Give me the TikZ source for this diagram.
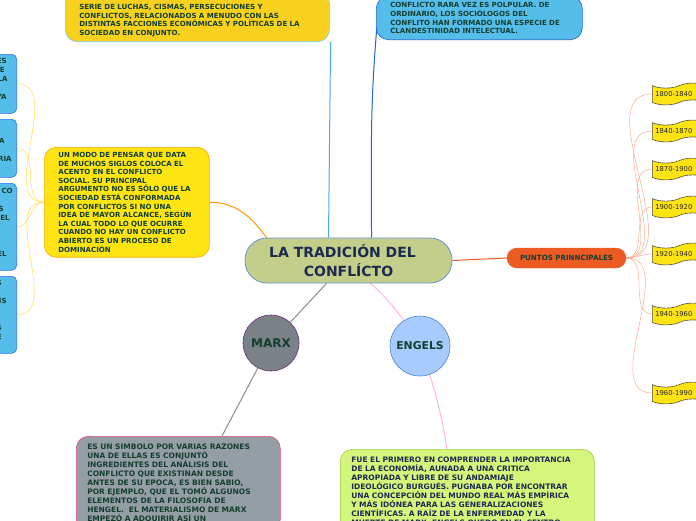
\documentclass[tikz,border=0pt]{standalone}
\usepackage{fontspec}
\setmainfont{DejaVu Sans}
\usetikzlibrary{positioning,calc,shapes.symbols,backgrounds}

\definecolor{txtgreen}{HTML}{123F2E}
\definecolor{txtnavy}{HTML}{1B2A4E}
\definecolor{sunyellow}{HTML}{F8D11E}
\definecolor{lemon}{HTML}{FFE414}
\definecolor{skyblue}{HTML}{55BDEA}
\definecolor{deepblue}{HTML}{1F66C6}
\definecolor{olive}{HTML}{C3CE8B}
\definecolor{slate}{HTML}{7A8287}
\definecolor{plum}{HTML}{6B2A7A}
\definecolor{babyblue}{HTML}{A7CBFD}
\definecolor{tomato}{HTML}{EE5A24}
\definecolor{stone}{HTML}{959EA4}
\definecolor{rosy}{HTML}{E3488F}
\definecolor{lime}{HTML}{D5F67B}
\definecolor{limeedge}{HTML}{A1CB3F}

\begin{document}
\begin{tikzpicture}[
    x=1pt, y=-1pt,
    font=\bfseries\fontsize{7.05}{8.6}\selectfont,
    every node/.style={align=left, text=txtgreen},
    box/.style={draw, rounded corners=12pt, line width=0.6pt, inner xsep=15pt, inner ysep=8pt},
    bigtext/.style={font=\bfseries\fontsize{7.5}{9}\selectfont},
    topbox/.style={box, fill=sunyellow, draw=skyblue!80},
    idea/.style={box, fill=skyblue, draw=deepblue},
    mainbox/.style={box, fill=lemon, draw=orange!70!yellow},
    sidebox/.style={draw, fill=skyblue, draw=skyblue!60!blue, rounded corners=5pt, line width=0.6pt,
                    text width=56pt, inner xsep=4pt, align=right, anchor=north east,
                    font=\bfseries\fontsize{7.05}{9}\selectfont},
    central/.style={draw=deepblue!70, fill=olive, line width=0.8pt, rounded corners=22pt,
                    minimum width=207pt, minimum height=45pt, align=center, text=txtnavy,
                    font=\bfseries\fontsize{14}{19.5}\selectfont},
    person/.style={circle, draw, line width=0.6pt, align=center},
    topic/.style={draw=tomato, fill=tomato, rounded corners=10pt, minimum width=119pt, minimum height=20pt,
                  align=center, font=\bfseries\fontsize{7.1}{8}\selectfont},
    period/.style={tape, draw=black!60!yellow!60!black, fill=lemon, line width=0.6pt,
                   minimum height=21pt, anchor=west, inner xsep=3pt, text width=48pt, text=black!85,
                   font=\mdseries\fontsize{6.8}{8}\selectfont},
    link/.style={line width=1pt},
    twig/.style={line width=0.5pt},
]
\useasboundingbox (0,0) rectangle (696,520);
\clip (0,0) rectangle (696,520);

% --- Centre ---
\node[central] (center) at (348.5,260.5) {LA TRADICIÓN DEL\kern12pt\\CONFLÍCTO};

% --- Top boxes (run off the page) ---
\node[topbox, text width=236pt, anchor=south west, inner xsep=14pt, inner ysep=5pt] (history) at (65,42)
  {MANIOBRAS Y CAMBIOS FACCIONALES. HA SIDO UNA\\
   SERIE DE LUCHAS, CISMAS, PERSECUCIONES Y\\
   CONFLICTOS, RELACIONADOS A MENUDO CON LAS\\
   DISTINTAS FACCIONES ECONÓMICAS Y POLÍTICAS DE LA\\
   SOCIEDAD EN CONJUNTO.};
\node[idea, text width=178pt, anchor=south west, inner xsep=14pt, inner ysep=6pt] (secret) at (376,40)
  {CONFLICTO RARA VEZ ES POLPULAR. DE\\
   ORDINARIO, LOS SOCIÓLOGOS DEL\\
   CONFLITO HAN FORMADO UNA ESPECIE DE\\
   CLANDESTINIDAD INTELECTUAL.};

% --- Left: definition and its cut-off sub boxes ---
\node[mainbox, text width=137pt, anchor=north west, inner xsep=14pt, inner ysep=5pt] (definition) at (44,147)
  {UN MODO DE PENSAR QUE DATA\\
   DE MUCHOS SIGLOS COLOCA EL\\
   ACENTO EN EL CONFLICTO\\
   SOCIAL. SU PRINCIPAL\\
   ARGUMENTO NO ES SÓLO QUE LA\\
   SOCIEDAD ESTÁ CONFORMADA\\
   POR CONFLICTOS SI NO UNA\\
   IDEA DE MAYOR ALCANCE, SEGÚN\\
   LA CUAL TODO LO QUE OCURRE\\
   CUANDO NO HAY UN CONFLICTO\\
   ABIERTO ES UN PROCESO DE\\
   DOMINACIÓN};

\node[sidebox, minimum height=59pt] (sideA) at (17,54)
  {ES\kern6pt\\E\kern8pt\\LA\kern5pt\\~\\YA\kern6pt\\~};
\node[sidebox, minimum height=58pt] (sideB) at (17,119)
  {~\\~\\A\kern8pt\\~\\RIA\kern1pt\\~};
\node[sidebox, minimum height=87pt] (sideC) at (17,183)
  {CO\\~\\S\kern9pt\\EL\kern3pt\\~\\~\\~\\EL\kern6pt\\~};
\node[sidebox, minimum height=77pt] (sideD) at (17,276)
  {S\kern11pt\\~\\IS\kern6pt\\~\\~\\S\kern11pt\\E\kern11pt\\~};

% --- Authors ---
\node[person, fill=slate, draw=plum, minimum size=56pt, font=\bfseries\fontsize{12}{14}\selectfont] (marx) at (271,343) {MARX};
\node[person, fill=babyblue, draw=deepblue!80, minimum size=60pt, font=\bfseries\fontsize{10.8}{12}\selectfont] (engels) at (420,346) {ENGELS};

\node[box, bigtext, fill=stone, draw=rosy, text width=182pt, anchor=north west, inner xsep=11pt] (marxnote) at (76,436)
  {ES UN SIMBOLO POR VARIAS RAZONES\\
   UNA DE ELLAS ES CONJUNTÓ\\
   INGREDIENTES DEL ANÁLISIS DEL\\
   CONFLICTO QUE EXISTINAN DESDE\\
   ANTES DE SU EPOCA, ES BIEN SABIO,\\
   POR EJEMPLO, QUE EL TOMÓ ALGUNOS\\
   ELEMENTOS DE LA FILOSOFIA DE\\
   HENGEL.\ \ EL MATERIALISMO DE MARX\\
   EMPEZÓ A ADQUIRIR ASÍ UN};
\node[box, bigtext, fill=lime, draw=limeedge, text width=232pt, anchor=north west, inner xsep=11pt, text=txtnavy] (engelsnote) at (340,449)
  {FUE EL PRIMERO EN COMPRENDER LA IMPORTANCIA\\
   DE LA ECONOMÍA, AUNADA A UNA CRITICA\\
   APROPIADA Y LIBRE DE SU ANDAMIAJE\\
   IDEOLÓGICO BURGUÉS. PUGNABA POR ENCONTRAR\\
   UNA CONCEPCIÓN DEL MUNDO REAL MÁS EMPÍRICA\\
   Y MÁS IDÓNEA PARA LAS GENERALIZACIONES\\
   CIENTÍFICAS. A RAÍZ DE LA ENFERMEDAD Y LA\\
   MUERTE DE MARX, ENGELS QUEDO EN EL CENTRO};

% --- Right: main points and periods ---
\node[topic] (points) at (566.5,258) {PUNTOS PRINNCIPALES};
\node[period] (p1) at (652,94)  {1800-1840};
\node[period] (p2) at (652,131) {1840-1870};
\node[period] (p3) at (652,169) {1870-1900};
\node[period] (p4) at (652,207) {1900-1920};
\node[period] (p5) at (652,254) {1920-1940};
\node[period] (p6) at (652,314) {1940-1960};
\node[period] (p7) at (652,393) {1960-1990};

% --- Connectors ---
\begin{scope}[on background layer]
\draw[link, skyblue!90!blue] ($(history.south east)+(1,0)$) -- ($(center.north)+(-20,0)$);
\draw[link, deepblue] ($(secret.south west)+(1,-14)$) to[out=-95,in=90] ($(center.north)+(23,0)$);
\draw[link, orange!80!yellow] (definition.east) to[out=0,in=125] ($(center.north west)+(24,3)$);
\foreach \s in {sideA,sideB,sideC,sideD}
  \draw[twig, orange!40!yellow!70!white] (definition.west) to[out=180,in=0] (\s.east);
\draw[link, gray!90] ($(center.south)+(-22,0)$) -- (marx);
\draw[link, pink!70!magenta!60!white] ($(center.south)+(22,0)$) to[bend left=6] (engels);
\draw[link, gray!90] (marx) -- ($(marxnote.north west)+(146,0)$);
\draw[link, pink!70!magenta!60!white] (engels) to[bend left=4] ($(engelsnote.north west)+(107,0)$);
\draw[link, tomato] (center.east) -- (points.west);
\foreach \p in {p1,p2,p3,p4,p5,p6,p7}
  \draw[twig, tomato!50!white] (points.east) to[out=0,in=180] (\p.west);
\end{scope}
\end{tikzpicture}
\end{document}
